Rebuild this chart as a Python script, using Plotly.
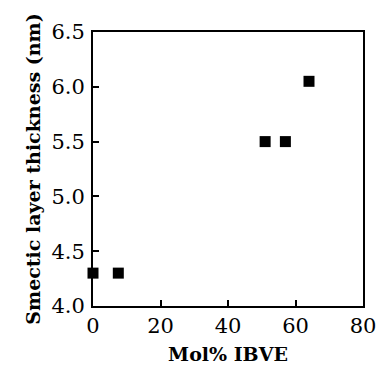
import plotly.graph_objects as go

mol_pct = [0, 7.5, 51, 57, 64]
thickness = [4.3, 4.3, 5.5, 5.5, 6.05]

x_ticks = [0, 20, 40, 60, 80]
y_ticks = [4.0, 4.5, 5.0, 5.5, 6.0, 6.5]
y_tick_text = ["4.0", "4.5", "5.0", "5.5", "6.0", "6.5"]

fig = go.Figure(go.Scatter(
    x=mol_pct, y=thickness, mode="markers",
    marker=dict(symbol="square", size=11, color="black"),
    cliponaxis=False,
))

font_family = "DejaVu Serif"
fig.update_layout(
    width=388, height=374,
    margin=dict(l=93, r=15, t=32, b=62),
    plot_bgcolor="white", paper_bgcolor="white",
    showlegend=False,
    font=dict(family=font_family, color="black"),
)
fig.update_xaxes(
    range=[0, 80], tickvals=x_ticks,
    ticks="inside", ticklen=6, tickwidth=2, tickcolor="black",
    showline=True, linewidth=2, linecolor="black", mirror=True,
    showgrid=False, zeroline=False,
    tickfont=dict(size=21, family=font_family),
    title=dict(text="<b>Mol% IBVE</b>", font=dict(size=19, family=font_family), standoff=10),
)
fig.update_yaxes(
    range=[4.0, 6.5], tickvals=y_ticks, ticktext=y_tick_text,
    ticks="inside", ticklen=6, tickwidth=2, tickcolor="black",
    showline=True, linewidth=2, linecolor="black", mirror=True,
    showgrid=False, zeroline=False,
    tickfont=dict(size=21, family=font_family),
    ticklabelstandoff=2,
    title=dict(text="<b>Smectic layer thickness (nm)</b>", font=dict(size=19, family=font_family), standoff=6),
)
fig.write_html(
    "out.html",
    config={"displayModeBar": False},
    post_script="document.body.style.margin='0px';document.documentElement.style.overflow='hidden';",
)
